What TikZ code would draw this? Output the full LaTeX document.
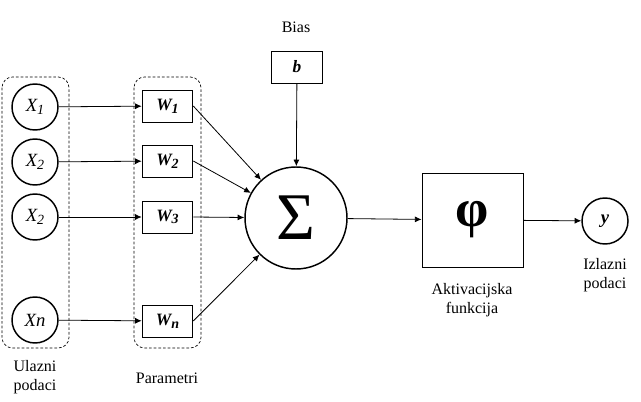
\documentclass[tikz,border=0pt]{standalone}
\usepackage{fontspec}
\setmainfont{Liberation Serif}
\usetikzlibrary{arrows.meta}
\newcommand{\mysub}[1]{\raisebox{-0.35ex}{\fontsize{10.5}{12}\selectfont #1}}
\begin{document}
\begin{tikzpicture}[x=0.75pt,y=-0.75pt,
  font=\fontsize{12}{14}\selectfont,
  inp/.style={draw,circle,line width=1.1pt,minimum size=34.5pt,inner sep=0pt,font=\fontsize{14}{16}\selectfont},
  wbox/.style={draw,line width=0.7pt,minimum width=38pt,minimum height=24pt,inner sep=0pt,font=\fontsize{13}{15}\selectfont},
  grp/.style={draw,rounded corners=8pt,line width=0.5pt,dash pattern=on 2pt off 1.5pt},
  arr/.style={-{Latex[length=5pt,width=4.5pt]},line width=0.6pt},
  lbl/.style={align=center,inner sep=0pt}]
\useasboundingbox (0,0) rectangle (641,402);
% groups
\draw[grp] (2,77) rectangle (69,348);
\draw[grp] (134,77) rectangle (201,348);
% inputs
\node[inp] (x1) at (35,107) {\textit{X\mysub{1}}};
\node[inp] (x2) at (35,162) {\textit{X\mysub{2}}};
\node[inp] (x3) at (35,217) {\textit{X\mysub{2}}};
\node[inp] (xn) at (35,320) {\textit{Xn}};
% weights
\node[wbox] (w1) at (167.5,106) {\textbf{\textit{W\mysub{1}}}};
\node[wbox] (w2) at (167.5,161) {\textbf{\textit{W\mysub{2}}}};
\node[wbox] (w3) at (167.5,217) {\textbf{\textit{W\mysub{3}}}};
\node[wbox] (wn) at (167.5,321) {\textbf{\textit{W\mysub{n}}}};
% bias
\node[wbox] (b) at (297,67) {\textbf{\textit{b}}};
\node[lbl] (biasl) at (296,27) {Bias};
% sum
\node[draw,circle,line width=1.1pt,minimum size=76.5pt,inner sep=0pt] (s) at (296,218)
  {\fontsize{50}{50}\selectfont Σ};
% activation
\node[draw,line width=0.7pt,minimum width=75.75pt,minimum height=70.5pt,inner sep=0pt] (phi) at (472.5,220)
  {\fontsize{40}{40}\selectfont\bfseries φ};
% output
\node[inp] (y) at (605,221) {\textbf{\textit{y}}};
% labels
\node[lbl] (ul) at (35,377) {Ulazni\\podaci};
\node[lbl] (pl) at (167,378) {Parametri};
\node[lbl] (al) at (472,300) {Aktivacijska\\funkcija};
\node[lbl] (il) at (605,275) {Izlazni\\podaci};
% connectors
\draw[arr] (x1) -- (w1);
\draw[arr] (x2) -- (w2);
\draw[arr] (x3) -- (w3);
\draw[arr] (xn) -- (wn);
\draw[arr] (w1.east) -- (s);
\draw[arr] (w2.east) -- (s);
\draw[arr] (w3.east) -- (s);
\draw[arr] (wn.east) -- (s);
\draw[arr] (b) -- (s);
\draw[arr] (s) -- (phi);
\draw[arr] (phi) -- (y);
\end{tikzpicture}
\end{document}
